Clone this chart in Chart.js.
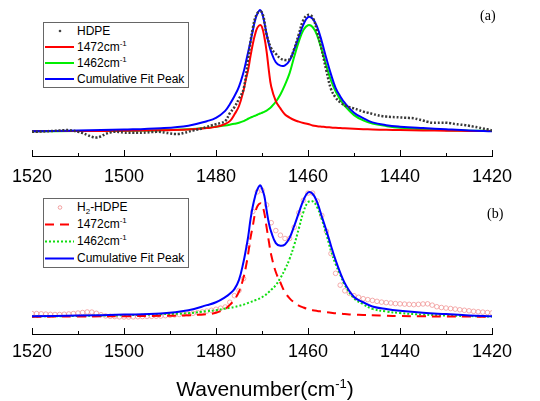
<!DOCTYPE html>
<html>
<head>
<meta charset="utf-8">
<script src="https://cdn.jsdelivr.net/npm/chart.js@4.4.1/dist/chart.umd.min.js"></script>
<style>
  body { margin: 0; background: #fff; }
  #wrap { position: relative; width: 540px; height: 401px; overflow: hidden; font-family: "Liberation Sans", Arial, sans-serif; }
  canvas { position: absolute; left: 0; }
  #cTop { top: 0; }
  #cBot { top: 175px; }
  .legend { position: absolute; left: 43px; width: 146px; border: 1px solid #666; background: #fff; box-sizing: border-box; font-size: 12px; color: #000; }
  .legend .row { position: relative; padding-left: 33px; white-space: nowrap; }
  .legend svg { position: absolute; left: 1px; top: 0; }
  #legTop { top: 22px; }
  #legTop .row { height: 16px; line-height: 16px; }
  #legBot { top: 198px; }
  #legBot .row { height: 17px; line-height: 17px; }
  sup, sub { font-size: 8px; line-height: 0; }
  .tag { position: absolute; font-family: "Liberation Serif", "Times New Roman", serif; font-size: 14px; }
  #xtitle { position: absolute; left: 0; width: 530px; top: 377px; text-align: center; font-size: 21px; line-height: 24px; }
</style>
</head>
<body>
<div id="wrap">
  <canvas id="cTop" width="540" height="190"></canvas>
  <canvas id="cBot" width="540" height="193"></canvas>

  <div class="legend" id="legTop">
    <div class="row"><svg width="30" height="16"><circle cx="15" cy="8" r="1.3" fill="#444"/></svg>HDPE</div>
    <div class="row"><svg width="30" height="16"><line x1="0" y1="8" x2="29" y2="8" stroke="#ff0000" stroke-width="2"/></svg>1472cm<sup>-1</sup></div>
    <div class="row"><svg width="30" height="16"><line x1="0" y1="8" x2="29" y2="8" stroke="#00ee00" stroke-width="2"/></svg>1462cm<sup>-1</sup></div>
    <div class="row"><svg width="30" height="16"><line x1="0" y1="8" x2="29" y2="8" stroke="#0000ff" stroke-width="2"/></svg>Cumulative Fit Peak</div>
  </div>

  <div class="legend" id="legBot">
    <div class="row"><svg width="30" height="17"><circle cx="15" cy="8.5" r="1.8" fill="none" stroke="rgba(240,140,140,0.8)" stroke-width="1"/></svg>H<sub>2</sub>-HDPE</div>
    <div class="row"><svg width="30" height="17"><line x1="0" y1="8.5" x2="29" y2="8.5" stroke="#ff0000" stroke-width="2" stroke-dasharray="9 6"/></svg>1472cm<sup>-1</sup></div>
    <div class="row"><svg width="30" height="17"><line x1="0" y1="8.5" x2="29" y2="8.5" stroke="#11dd11" stroke-width="2" stroke-dasharray="2 2"/></svg>1462cm<sup>-1</sup></div>
    <div class="row"><svg width="30" height="17"><line x1="0" y1="8.5" x2="29" y2="8.5" stroke="#0000ff" stroke-width="2"/></svg>Cumulative Fit Peak</div>
  </div>

  <div class="tag" style="left:480px; top:8px;">(a)</div>
  <div class="tag" style="left:487px; top:206px;">(b)</div>
  <div id="xtitle">Wavenumber(cm<sup style="font-size:13px;">-1</sup>)</div>
</div>

<script>
// ticks on the wavenumber axis
const majorTicks = [1520, 1500, 1480, 1460, 1440, 1420];
const minorTicks = [1510, 1490, 1470, 1450, 1430];

// measured spectra, one value per cm-1 from 1520 down to 1420
const dataWn = [1520, 1519, 1518, 1517, 1516, 1515, 1514, 1513, 1512, 1511,
  1510, 1509, 1508, 1507, 1506, 1505, 1504, 1503, 1502, 1501,
  1500, 1499, 1498, 1497, 1496, 1495, 1494, 1493, 1492, 1491,
  1490, 1489, 1488, 1487, 1486, 1485, 1484, 1483, 1482, 1481,
  1480, 1479, 1478, 1477, 1476, 1475, 1474, 1473, 1472, 1471,
  1470, 1469, 1468, 1467, 1466, 1465, 1464, 1463, 1462, 1461,
  1460, 1459, 1458, 1457, 1456, 1455, 1454, 1453, 1452, 1451,
  1450, 1449, 1448, 1447, 1446, 1445, 1444, 1443, 1442, 1441,
  1440, 1439, 1438, 1437, 1436, 1435, 1434, 1433, 1432, 1431,
  1430, 1429, 1428, 1427, 1426, 1425, 1424, 1423, 1422, 1421, 1420];

const hdpe = [-0.002, -0.002, 0.000, 0.002, 0.004, 0.006, 0.008, 0.011, 0.012, 0.006,
  -0.002, -0.012, -0.028, -0.043, -0.050, -0.040, -0.020, -0.008, -0.002, -0.004,
  -0.009, -0.010, -0.010, -0.010, -0.010, -0.008, -0.005, -0.003, -0.004, -0.010,
  -0.016, -0.020, -0.020, -0.012, -0.002, 0.008, 0.017, 0.026, 0.038, 0.050,
  0.060, 0.070, 0.085, 0.150, 0.200, 0.270, 0.350, 0.600, 0.850, 0.975,
  0.980, 0.800, 0.685, 0.640, 0.602, 0.588, 0.595, 0.680, 0.800, 0.918,
  0.960, 0.940, 0.820, 0.670, 0.500, 0.350, 0.280, 0.240, 0.215, 0.200,
  0.190, 0.177, 0.164, 0.155, 0.145, 0.135, 0.127, 0.123, 0.120, 0.118,
  0.116, 0.114, 0.112, 0.109, 0.100, 0.090, 0.080, 0.072, 0.072, 0.073,
  0.072, 0.068, 0.062, 0.057, 0.053, 0.047, 0.040, 0.033, 0.025, 0.018, 0.008];

const h2hdpe = [0.024, 0.024, 0.022, 0.020, 0.018, 0.017, 0.017, 0.019, 0.021, 0.024,
  0.028, 0.032, 0.036, 0.035, 0.026, 0.015, 0.006, 0.003, 0.001, -0.001,
  -0.002, -0.002, -0.001, 0.000, 0.001, 0.002, 0.003, 0.004, 0.005, 0.008,
  0.011, 0.014, 0.017, 0.020, 0.022, 0.026, 0.031, 0.037, 0.043, 0.049,
  0.057, 0.065, 0.074, 0.110, 0.160, 0.200, 0.290, 0.540, 0.800, 0.950,
  0.962, 0.850, 0.715, 0.655, 0.620, 0.595, 0.595, 0.680, 0.790, 0.885,
  0.940, 0.940, 0.880, 0.770, 0.650, 0.480, 0.330, 0.240, 0.197, 0.178,
  0.160, 0.148, 0.137, 0.130, 0.124, 0.117, 0.111, 0.107, 0.104, 0.100,
  0.098, 0.096, 0.094, 0.092, 0.094, 0.097, 0.098, 0.088, 0.076, 0.070,
  0.066, 0.062, 0.058, 0.053, 0.049, 0.045, 0.041, 0.038, 0.035, 0.032, 0.029];

// fitted peaks, sampled more densely around the two bands
const fitWn = [1520, 1510, 1500, 1492, 1486, 1482, 1480, 1478, 1477, 1476,
  1475, 1474, 1473.5, 1473, 1472.5, 1472, 1471.5, 1471, 1470.4, 1470,
  1469.5, 1469, 1468.5, 1468, 1467, 1466, 1465, 1464, 1463, 1462,
  1461, 1460, 1459, 1458, 1457, 1456, 1455, 1454, 1453, 1452,
  1450, 1448, 1446, 1443, 1440, 1435, 1430, 1425, 1420];

// (a) HDPE
const fitA1472 = [0.003, 0.004, 0.006, 0.010, 0.016, 0.028, 0.038, 0.062, 0.085, 0.140,
  0.210, 0.340, 0.430, 0.510, 0.620, 0.720, 0.800, 0.855, 0.877, 0.860,
  0.780, 0.660, 0.500, 0.370, 0.250, 0.190, 0.140, 0.115, 0.095, 0.081,
  0.070, 0.062, 0.050, 0.044, 0.040, 0.036, 0.033, 0.030, 0.028, 0.026,
  0.022, 0.019, 0.017, 0.014, 0.012, 0.009, 0.007, 0.005, 0.004];
const fitA1462 = [0.002, 0.004, 0.006, 0.010, 0.018, 0.030, 0.040, 0.050, 0.056, 0.063,
  0.072, 0.085, 0.095, 0.105, 0.114, 0.122, 0.130, 0.138, 0.148, 0.154,
  0.162, 0.172, 0.186, 0.202, 0.245, 0.305, 0.385, 0.480, 0.615, 0.740,
  0.835, 0.875, 0.860, 0.790, 0.670, 0.540, 0.420, 0.330, 0.265, 0.210,
  0.135, 0.092, 0.066, 0.045, 0.030, 0.018, 0.011, 0.007, 0.004];
const fitACum = [0.002, 0.008, 0.016, 0.027, 0.048, 0.085, 0.112, 0.170, 0.225, 0.290,
  0.370, 0.490, 0.570, 0.655, 0.740, 0.830, 0.915, 0.970, 1.000, 0.975,
  0.900, 0.800, 0.720, 0.655, 0.570, 0.542, 0.545, 0.585, 0.675, 0.780,
  0.880, 0.942, 0.928, 0.860, 0.740, 0.600, 0.470, 0.360, 0.290, 0.235,
  0.155, 0.110, 0.075, 0.052, 0.040, 0.028, 0.018, 0.009, 0.003];

// (b) H2-HDPE
const fitB1472 = [0.000, 0.002, 0.004, 0.007, 0.011, 0.020, 0.030, 0.060, 0.090, 0.130,
  0.190, 0.300, 0.380, 0.480, 0.600, 0.690, 0.787, 0.840, 0.862, 0.850,
  0.790, 0.680, 0.570, 0.470, 0.340, 0.260, 0.185, 0.140, 0.108, 0.085,
  0.070, 0.058, 0.050, 0.044, 0.039, 0.034, 0.030, 0.026, 0.023, 0.020,
  0.016, 0.013, 0.011, 0.008, 0.005, 0.003, 0.002, 0.001, 0.000];
const fitB1462 = [0.002, 0.006, 0.011, 0.019, 0.027, 0.042, 0.050, 0.062, 0.068, 0.074,
  0.082, 0.092, 0.098, 0.105, 0.112, 0.118, 0.125, 0.132, 0.140, 0.148,
  0.160, 0.172, 0.188, 0.205, 0.240, 0.295, 0.360, 0.440, 0.545, 0.670,
  0.795, 0.870, 0.878, 0.832, 0.740, 0.625, 0.500, 0.400, 0.320, 0.240,
  0.140, 0.095, 0.060, 0.040, 0.028, 0.016, 0.009, 0.005, 0.002];
const fitBCum = [0.004, 0.009, 0.016, 0.025, 0.050, 0.088, 0.110, 0.149, 0.175, 0.210,
  0.280, 0.420, 0.510, 0.610, 0.740, 0.840, 0.915, 0.968, 1.000, 0.975,
  0.920, 0.810, 0.710, 0.645, 0.560, 0.540, 0.550, 0.600, 0.690, 0.790,
  0.885, 0.945, 0.935, 0.870, 0.762, 0.655, 0.540, 0.430, 0.335, 0.255,
  0.150, 0.110, 0.078, 0.058, 0.045, 0.030, 0.020, 0.010, 0.004];

function pts(xs, ys) {
  return xs.map((x, i) => ({ x: x, y: ys[i] }));
}

// tick marks point up into the plot, so they are drawn here
const innerTicks = {
  id: 'innerTicks',
  afterDatasetsDraw(chart) {
    const sx = chart.scales.x;
    const yb = chart.chartArea.bottom;
    const ctx = chart.ctx;
    ctx.save();
    ctx.strokeStyle = '#000';
    ctx.lineWidth = 1;
    const mark = (v, len) => {
      const px = Math.round(sx.getPixelForValue(v)) + 0.5;
      ctx.beginPath();
      ctx.moveTo(px, yb);
      ctx.lineTo(px, yb - len);
      ctx.stroke();
    };
    majorTicks.forEach(v => mark(v, 6));
    minorTicks.forEach(v => mark(v, 3));
    ctx.restore();
  }
};

function makePanel(id, datasets, yMin, yMax, top, labelPad) {
  return new Chart(document.getElementById(id), {
    type: 'line',
    data: { datasets: datasets },
    options: {
      responsive: false,
      animation: false,
      events: [],
      layout: { padding: { left: 32, right: 48, top: top, bottom: 0 } },
      plugins: { legend: { display: false }, tooltip: { enabled: false } },
      elements: { point: { radius: 0 }, line: { tension: 0.4 } },
      scales: {
        x: {
          type: 'linear', reverse: true, min: 1420, max: 1520,
          afterBuildTicks: s => { s.ticks = majorTicks.map(v => ({ value: v })); },
          afterFit: s => { s.height = 34; },
          grid: { display: true, drawOnChartArea: false, drawTicks: false },
          border: { display: true, color: '#000', width: 1 },
          ticks: { color: '#000', padding: labelPad, maxRotation: 0, autoSkip: false,
                   font: { family: 'Liberation Sans', size: 18 },
                   callback: v => String(v) }
        },
        y: { display: false, min: yMin, max: yMax }
      }
    },
    plugins: [innerTicks]
  });
}

makePanel('cTop', [
  { data: pts(dataWn, hdpe), borderColor: '#3a3a3a', borderWidth: 2.5, borderDash: [2, 1.8] },
  { data: pts(fitWn, fitACum), borderColor: '#0000ff', borderWidth: 2 },
  { data: pts(fitWn, fitA1472), borderColor: '#ff0000', borderWidth: 2 },
  { data: pts(fitWn, fitA1462), borderColor: '#00ee00', borderWidth: 2 }
], -0.2016, 1.0412, 5, 10);

makePanel('cBot', [
  { data: pts(fitWn, fitBCum), borderColor: '#0000ff', borderWidth: 2 },
  { data: pts(fitWn, fitB1472), borderColor: '#ff0000', borderWidth: 2, borderDash: [9, 6] },
  { data: pts(fitWn, fitB1462), borderColor: '#11dd11', borderWidth: 2, borderDash: [2, 2] },
  { data: pts(dataWn, h2hdpe), showLine: false, pointRadius: 2.3, pointBorderWidth: 1,
    pointBorderColor: 'rgba(240,140,140,0.7)', pointBackgroundColor: 'rgba(0,0,0,0)' }
], -0.1314, 1.0398, 3, 7);
</script>
</body>
</html>
